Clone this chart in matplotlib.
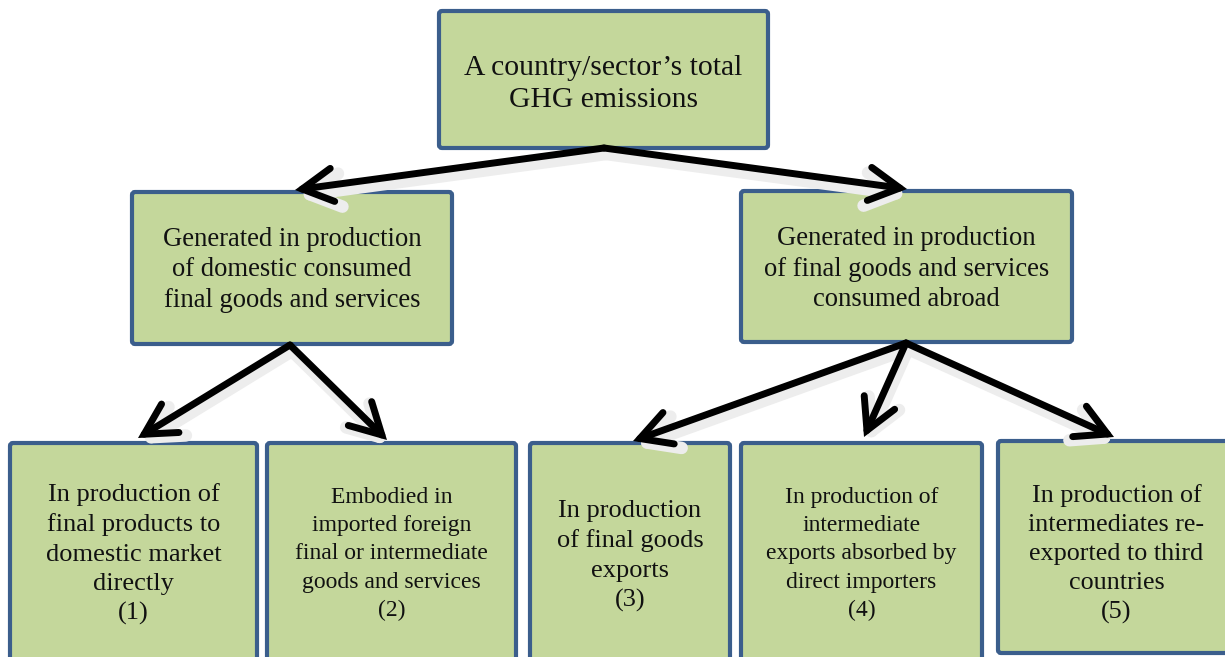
import matplotlib.pyplot as plt
from matplotlib.patches import FancyBboxPatch, FancyArrowPatch

# box texts
top_label = "A country/sector\u2019s total\nGHG emissions"
mid_labels = ["Generated in production\nof domestic consumed\nfinal goods and services",
              "Generated in production\nof final goods and services\nconsumed abroad"]
leaf_labels = ["In production of\nfinal products to\ndomestic market\ndirectly\n(1)",
               "Embodied in\nimported foreign\nfinal or intermediate\ngoods and services\n(2)",
               "In production\nof final goods\nexports\n(3)",
               "In production of\nintermediate\nexports absorbed by\ndirect importers\n(4)",
               "In production of\nintermediates re-\nexported to third\ncountries\n(5)"]

# layout in pixels: (x0, y0, x1, y1), y downwards
top_box = (439, 11, 768, 148)
mid_boxes = [(132, 192, 452, 344), (741, 191, 1072, 342)]
leaf_boxes = [(10, 443, 257, 670), (267, 443, 516, 670), (530, 443, 730, 670),
              (741, 443, 982, 670), (998, 441, 1235, 653)]
leaf_sizes = [19, 17, 19, 17, 18.8]
leaf_text_y = [554, 554, 556, 554, 554]
leaf_spacing = [1.42, 1.46, 1.43, 1.46, 1.42]

fill = '#C4D79B'
edge = '#3B5E8C'

fig = plt.figure(figsize=(12.25, 6.57), dpi=100)
ax = fig.add_axes([0, 0, 1, 1])
ax.set_xlim(0, 1225)
ax.set_ylim(657, 0)
ax.axis('off')

def box(b, text, size, ty=None, ls=1.25):
    x0, y0, x1, y1 = b
    ax.add_patch(FancyBboxPatch((x0, y0), x1 - x0, y1 - y0,
                                boxstyle='round,pad=0,rounding_size=3',
                                fc=fill, ec=edge, lw=3, zorder=2))
    if ty is None:
        ty = (y0 + y1) / 2
    ax.text((x0 + x1) / 2, ty, text, ha='center', va='center', fontsize=size,
            family='Liberation Serif', linespacing=ls, color='#111111', zorder=3)

box(top_box, top_label, 21.3, ty=84, ls=1.32)
box(mid_boxes[0], mid_labels[0], 19.2, ty=270, ls=1.29)
box(mid_boxes[1], mid_labels[1], 19.2, ty=269, ls=1.29)
for b, t, s, ty, ls in zip(leaf_boxes, leaf_labels, leaf_sizes, leaf_text_y, leaf_spacing):
    box(b, t, s, ty=ty, ls=ls)

# arrows: (start, end)
arrows = [((604, 148), (295, 190)), ((604, 148), (907, 189)),
          ((290, 345), (138, 438)), ((290, 345), (387, 440)),
          ((906, 343), (633, 441)), ((906, 343), (864, 437)),
          ((906, 343), (1114, 437))]
style = '->,head_length=1.1,head_width=0.6'
for s, e in arrows:
    # faint shadow under each arrow
    ax.add_patch(FancyArrowPatch((s[0] + 2, s[1] + 6), (e[0] + 2, e[1] + 6),
                                 arrowstyle=style, mutation_scale=20, lw=9,
                                 color='#ededed', shrinkA=0, shrinkB=0, zorder=3.5))
    ax.add_patch(FancyArrowPatch(s, e, arrowstyle=style,
                                 mutation_scale=20, lw=5, color='black',
                                 capstyle='round', joinstyle='miter',
                                 shrinkA=0, shrinkB=0, zorder=4))

fig.savefig('out.png', dpi=100)
